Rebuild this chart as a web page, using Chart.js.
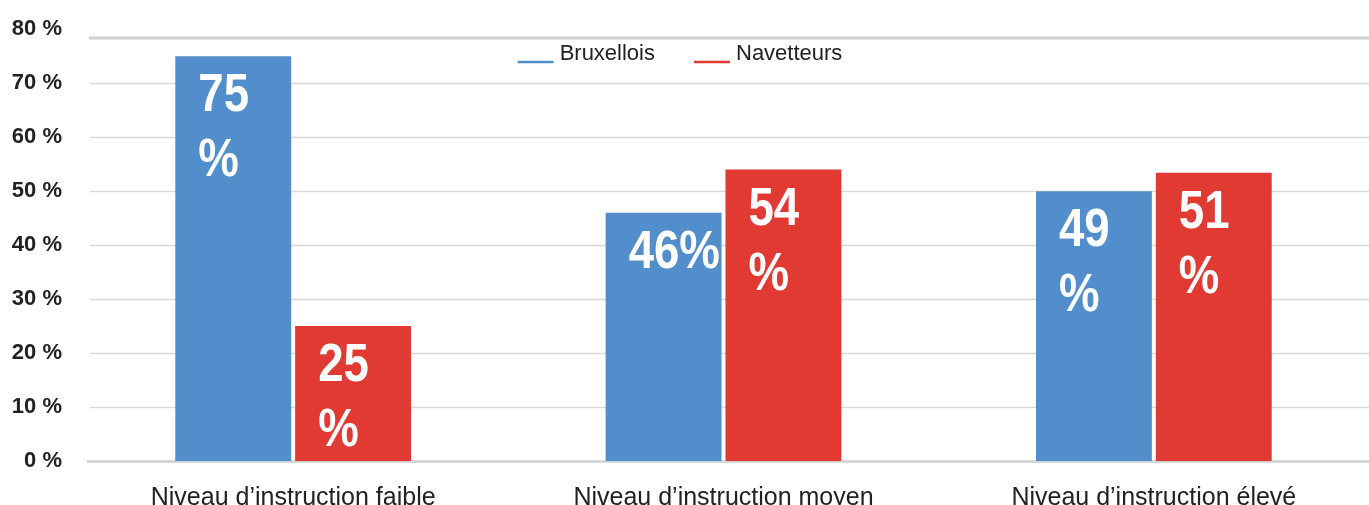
<!DOCTYPE html>
<html>
<head>
<meta charset="utf-8">
<script src="https://cdn.jsdelivr.net/npm/chart.js@4/dist/chart.umd.min.js"></script>
<style>
  html, body { margin: 0; padding: 0; background: #ffffff; }
  #wrap { position: relative; width: 1369px; height: 505px; }
</style>
</head>
<body>
<div id="wrap"><canvas id="c" width="1369" height="505"></canvas></div>
<script>
const categories = ["Niveau d’instruction faible", "Niveau d’instruction moyen", "Niveau d’instruction élevé"];
const seriesNames = ["Bruxellois", "Navetteurs"];
const bruxellois = [75, 46, 50];
const navetteurs = [25, 54, 53.4];
const bruxelloisLabels = ["75\n%", "46%", "49\n%"];
const navetteursLabels = ["25\n%", "54\n%", "51\n%"];
const yTickValues = [0, 10, 20, 30, 40, 50, 60, 70, 80];

const BLUE = "#528ECB";
const RED = "#E03A33";
const TEXT = "#222222";
const FONT = '"Liberation Sans", Arial, Helvetica, sans-serif';
const valueLabels = [bruxelloisLabels, navetteursLabels];

const decorPlugin = {
  id: "decor",
  beforeDatasetsDraw(chart) {
    const ctx = chart.ctx, y = chart.scales.y, area = chart.chartArea;
    ctx.save();
    yTickValues.forEach(v => {
      if (v === 0 || v === 80) return;
      const py = Math.round(y.getPixelForValue(v)) + 0.5;
      ctx.strokeStyle = "#d9d9d9";
      ctx.lineWidth = 1.5;
      ctx.beginPath(); ctx.moveTo(90, py); ctx.lineTo(area.right, py); ctx.stroke();
    });
    const pt = y.getPixelForValue(78.35);
    ctx.strokeStyle = "#d0d0d0";
    ctx.lineWidth = 3;
    ctx.beginPath(); ctx.moveTo(89, pt); ctx.lineTo(area.right, pt); ctx.stroke();
    const p0 = y.getPixelForValue(0) + 0.5;
    ctx.lineWidth = 2.5;
    ctx.beginPath(); ctx.moveTo(87, p0); ctx.lineTo(area.right, p0); ctx.stroke();
    ctx.restore();
  },
  afterDatasetsDraw(chart) {
    const ctx = chart.ctx;
    ctx.save();
    ctx.fillStyle = "#ffffff";
    ctx.font = "bold 53px " + FONT;
    ctx.textAlign = "left";
    ctx.textBaseline = "alphabetic";
    chart.data.datasets.forEach((ds, i) => {
      const meta = chart.getDatasetMeta(i);
      meta.data.forEach((bar, j) => {
        const lines = valueLabels[i][j].split("\n");
        const x = bar.x - bar.width / 2 + 23;
        const top = bar.y + 17;
        lines.forEach((ln, k) => {
          ctx.save();
          ctx.translate(x, top + 38 + k * 65);
          ctx.scale(0.86, 1);
          ctx.fillText(ln, 0, 0);
          ctx.restore();
        });
      });
    });
    ctx.restore();

    ctx.save();
    ctx.font = "22px " + FONT;
    ctx.textBaseline = "alphabetic";
    ctx.fillStyle = TEXT;
    const lineW = 36, gapTxt = 6, gapItem = 39;
    const items = chart.data.datasets.map(ds => ({ label: ds.label, color: ds.backgroundColor, w: ctx.measureText(ds.label).width }));
    let total = 0;
    items.forEach((it, k) => { total += lineW + gapTxt + it.w + (k ? gapItem : 0); });
    let x = 680 - total / 2;
    items.forEach((it, k) => {
      if (k) x += gapItem;
      ctx.strokeStyle = it.color;
      ctx.lineWidth = 2.5;
      ctx.beginPath(); ctx.moveTo(x, 62); ctx.lineTo(x + lineW, 62); ctx.stroke();
      x += lineW + gapTxt;
      ctx.fillStyle = TEXT;
      ctx.fillText(it.label, x, 60);
      x += it.w;
    });
    ctx.restore();
  }
};

new Chart(document.getElementById("c"), {
  type: "bar",
  data: {
    labels: categories,
    datasets: [
      { label: seriesNames[0], data: bruxellois, backgroundColor: BLUE, borderWidth: 0 },
      { label: seriesNames[1], data: navetteurs, backgroundColor: RED, borderWidth: 0 }
    ]
  },
  options: {
    responsive: false,
    animation: false,
    devicePixelRatio: 1,
    layout: { padding: { top: 26, right: 0, bottom: 0, left: 0 } },
    plugins: { legend: { display: false }, tooltip: { enabled: false } },
    datasets: { bar: { categoryPercentage: 0.557, barPercentage: 0.967 } },
    scales: {
      x: {
        grid: { display: false, drawTicks: false },
        border: { display: false },
        ticks: { color: TEXT, font: { family: FONT, size: 25 }, padding: 22, maxRotation: 0, autoSkip: false },
        afterFit(s) { s.height = 44; }
      },
      y: {
        min: 0, max: 80,
        afterBuildTicks(s) { s.ticks = yTickValues.map(v => ({ value: v })); },
        grid: { display: false, drawTicks: false },
        border: { display: false },
        ticks: { color: TEXT, font: { family: FONT, size: 22, weight: "bold" }, padding: 16,
                 callback: v => v + " %" },
        afterFit(s) { s.width = 78; }
      }
    }
  },
  plugins: [decorPlugin]
});
</script>
</body>
</html>
